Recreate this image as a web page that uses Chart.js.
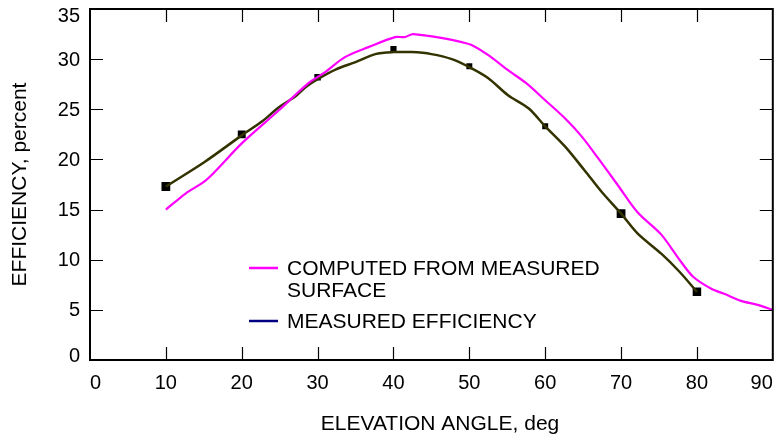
<!DOCTYPE html>
<html>
<head>
<meta charset="utf-8">
<script src="https://cdn.jsdelivr.net/npm/chart.js@4.4.1/dist/chart.umd.min.js"></script>
<style>
  html, body { margin: 0; padding: 0; background: #fff; }
  #wrap { width: 779px; height: 437px; }
</style>
</head>
<body>
<div id="wrap"><canvas id="myChart" width="779" height="437"></canvas></div>
<script>
// elevation angle (deg) / efficiency (percent)
var computedX = [10, 12.6, 15.4, 20, 24.9, 28.8, 31, 33.6, 36.7, 40.2, 41.5, 42.6, 47.2, 49, 50.3, 52.5, 55.1, 57.5, 60, 62.6, 64.8, 67, 69.6, 72.2, 75.3, 77.7, 79.5, 81.9, 83.6, 85.8, 88, 90];
var computedY = [15.0, 16.6, 18.0, 21.6, 24.9, 27.6, 28.7, 30.2, 31.2, 32.2, 32.2, 32.5, 32.0, 31.7, 31.4, 30.4, 28.9, 27.6, 25.9, 24.1, 22.3, 20.1, 17.4, 14.7, 12.5, 10.0, 8.3, 7.1, 6.6, 5.9, 5.5, 5.0];

var measuredX = [10, 15.2, 20, 22.7, 24.9, 27.1, 28.4, 30, 32.5, 35, 37.6, 40, 42.4, 45, 47.7, 50, 52.5, 55.1, 57.8, 60, 62.6, 65.2, 67.4, 70, 72.2, 75.3, 77.7, 80];
var measuredY = [17.3, 19.8, 22.4, 23.8, 25.2, 26.3, 27.2, 28.0, 29.0, 29.7, 30.5, 30.7, 30.7, 30.5, 30.0, 29.2, 28.1, 26.4, 25.1, 23.3, 21.3, 18.9, 16.8, 14.6, 12.6, 10.6, 8.8, 6.8];

var markerX = [10, 20, 30, 40, 50, 60, 70, 80];
var markerY = [17.3, 22.5, 28.2, 31.0, 29.3, 23.3, 14.6, 6.8];

var xTicks = [0, 10, 20, 30, 40, 50, 60, 70, 80, 90];
var yTicks = [0, 5, 10, 15, 20, 25, 30, 35];

var xTitle = 'ELEVATION ANGLE, deg';
var legendLabels = [["COMPUTED FROM MEASURED", "SURFACE"], ["MEASURED EFFICIENCY"]];
var legendColors = ["#ff00ff", "#000080"];

function pts(xs, ys) {
  return xs.map(function(x, i) { return { x: x, y: ys[i] }; });
}

var font = "Liberation Sans, Arial, sans-serif";

// frame, inward ticks, y labels, x title and the text legend
var framePlugin = {
  id: 'frame',
  afterDraw: function(chart) {
    var ctx = chart.ctx;
    var a = chart.chartArea;
    var xs = chart.scales.x, ys = chart.scales.y;
    ctx.save();
    ctx.strokeStyle = '#000';
    ctx.lineWidth = 2;
    ctx.strokeRect(a.left, a.top, a.right - a.left, a.bottom - a.top);
    ctx.lineWidth = 1.2;
    ctx.beginPath();
    xTicks.forEach(function(t) {
      if (t == 0 || t == 90) return;
      var px = Math.round(xs.getPixelForValue(t)) + 0.5;
      ctx.moveTo(px, a.bottom); ctx.lineTo(px, a.bottom - 13);
      ctx.moveTo(px, a.top); ctx.lineTo(px, a.top + 13);
    });
    yTicks.forEach(function(t) {
      if (t == 0 || t == 35) return;
      var py = Math.round(ys.getPixelForValue(t)) + 0.5;
      ctx.moveTo(a.left, py); ctx.lineTo(a.left + 13, py);
      ctx.moveTo(a.right, py); ctx.lineTo(a.right - 13, py);
    });
    ctx.stroke();

    ctx.fillStyle = '#000';
    ctx.font = '20px ' + font;
    ctx.textAlign = 'right';
    ctx.textBaseline = 'middle';
    yTicks.forEach(function(t, i) {
      var py = ys.getPixelForValue(t);
      if (i == 0) py -= 5;
      if (i == yTicks.length - 1) py += 6;
      ctx.fillText(String(t), a.left - 10, py + 1);
    });

    ctx.font = '21px ' + font;
    ctx.textAlign = 'center';
    ctx.fillText(xTitle, 440, 424);

    // legend
    ctx.textAlign = 'left';
    var rows = [[268, 290], [321]];
    legendLabels.forEach(function(lines, i) {
      ctx.strokeStyle = legendColors[i];
      ctx.lineWidth = 2.5;
      ctx.beginPath();
      ctx.moveTo(249, rows[i][0]); ctx.lineTo(278, rows[i][0]);
      ctx.stroke();
      lines.forEach(function(txt, j) {
        ctx.fillText(txt, 287, rows[i][j] + 1);
      });
    });
    ctx.restore();
  }
};

var ctx = document.getElementById('myChart').getContext('2d');
var myChart = new Chart(ctx, {
  type: 'scatter',
  data: {
    datasets: [{
      label: 'COMPUTED FROM MEASURED SURFACE',
      data: pts(computedX, computedY),
      showLine: true,
      borderColor: '#ff00ff',
      borderWidth: 2.2,
      pointRadius: 0,
      tension: 0.3
    }, {
      label: 'MEASURED EFFICIENCY',
      data: pts(measuredX, measuredY),
      showLine: true,
      borderColor: '#333300',
      borderWidth: 2.5,
      pointRadius: 0,
      tension: 0.3
    }, {
      label: 'markers',
      data: pts(markerX, markerY),
      showLine: false,
      pointStyle: 'rect',
      pointRadius: [6.2, 5.6, 4.6, 4.4, 4.2, 4.2, 6.2, 6.0],
      backgroundColor: '#000',
      borderColor: '#000',
      borderWidth: 0
    }]
  },
  options: {
    responsive: false,
    animation: false,
    layout: { padding: { top: 9, right: 4, left: 0, bottom: 0 } },
    plugins: { legend: { display: false }, tooltip: { enabled: false } },
    scales: {
      x: {
        type: 'linear', min: 0, max: 90,
        afterBuildTicks: function(s) { s.ticks = xTicks.map(function(v) { return { value: v }; }); },
        afterFit: function(s) { s.height = 77; s.paddingLeft = 0; s.paddingRight = 0; },
        grid: { display: false, drawTicks: false },
        border: { display: false },
        ticks: { color: '#000', font: { size: 20, family: font }, padding: 11, align: 'inner', maxRotation: 0 },
        title: { display: false }
      },
      y: {
        type: 'linear', min: 0, max: 35,
        afterBuildTicks: function(s) { s.ticks = yTicks.map(function(v) { return { value: v }; }); },
        afterFit: function(s) { s.width = 90; s.paddingTop = 0; s.paddingBottom = 0; },
        grid: { display: false, drawTicks: false },
        border: { display: false },
        ticks: { display: false },
        title: { display: true, text: 'EFFICIENCY, percent', color: '#000', font: { size: 21, family: font }, padding: { top: 8, bottom: 0 } }
      }
    }
  },
  plugins: [framePlugin]
});
</script>
</body>
</html>
